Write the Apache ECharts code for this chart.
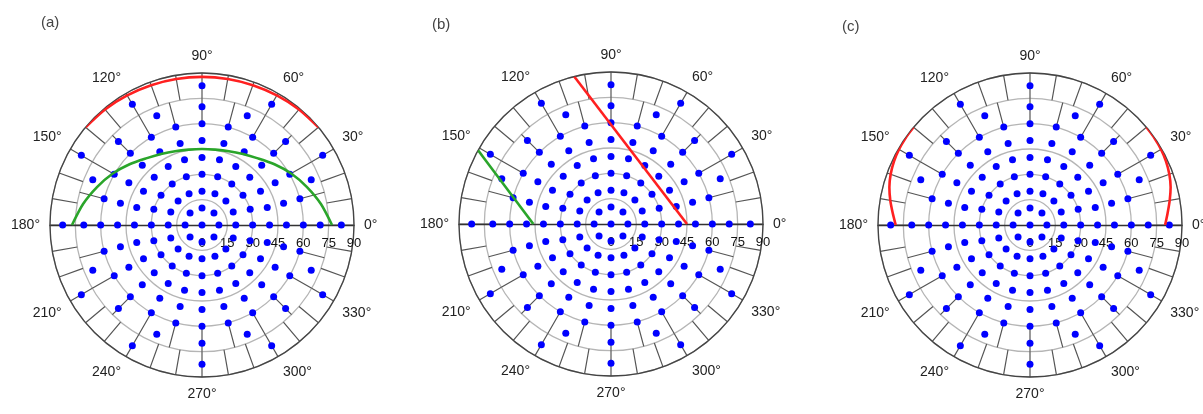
<!DOCTYPE html>
<html><head><meta charset="utf-8">
<script src="https://cdn.jsdelivr.net/npm/echarts@6/dist/echarts.min.js"></script>
<style>html,body{margin:0;padding:0;background:#fff}#c{width:1203px;height:414px}</style>
</head><body><div id="c"></div><script>
// ---- data ----
const panelLabels = ['(a)', '(b)', '(c)'];
const radiusTicks = [0, 15, 30, 45, 60, 75, 90];
const angleTickStep = 30;
// sampling rings: zenith angle of each ring and number of points on it
const ringZenith = [0, 10, 20, 30, 40, 50, 60, 70, 82.5];
const ringCount = [1, 8, 16, 20, 24, 24, 24, 16, 12];
// boundary curves [zenith, azimuth]
const aRed = [[90,40],[89.3,50],[88.6,60],[88.1,70],[87.8,80],[87.7,90],[87.8,100],[88.1,110],[88.6,120],[89.3,130],[90,140]];
const aGreen = [[77,0],[71.5,10],[66,20],[61,30],[56,40],[51.5,50],[48.5,60],[46.5,70],[45.3,80],[45,90],[45.3,100],[46.5,110],[48.5,120],[51.5,130],[56,140],[61,150],[66,160],[71.5,170],[77,180]];
const bRed = [[45,0],[90,104]];
const bGreen = [[46,180],[90,151]];
const cRedRight = [[80,0],[81.8,5],[84,10],[86.2,15],[87.8,20],[88.9,25],[89.6,30],[89.9,35],[90,40]];
const cRedLeft = [[90,140],[89.9,145],[89.6,150],[88.9,155],[87.8,160],[86.2,165],[84,170],[81.6,175],[79.5,180]];

const samplePoints = [];
ringZenith.forEach((z, i) => {
  const n = ringCount[i];
  for (let k = 0; k < n; k++) samplePoints.push([z, k * 360 / n]);
});

const centers = [[202, 225], [611, 224], [1030, 225]];
const R = 152;
const rOf = v => R * v / 90;
const FONT = 'Liberation Sans, Arial, sans-serif';

const polar = [], angleAxis = [], radiusAxis = [], series = [], title = [];
const titlePos = [[36, 10], [427, 12], [837, 14]];

centers.forEach((c, p) => {
  const base = polar.length;
  // 0 main
  polar.push({center: c, radius: R});
  angleAxis.push({polarIndex: base, type: 'value', min: 0, max: 360, interval: angleTickStep,
    startAngle: 0, clockwise: false,
    axisLine: {show: true, lineStyle: {color: '#444', width: 1.3}},
    axisTick: {show: false}, splitLine: {show: false},
    axisLabel: {show: true, margin: 10, color: '#222', fontSize: 14, fontFamily: FONT,
      formatter: v => v === 360 ? '' : v + '°'}});
  radiusAxis.push({polarIndex: base, type: 'value', min: 0, max: 90, interval: 15,
    axisLine: {show: true, lineStyle: {color: '#333', width: 1.3}},
    axisTick: {show: false},
    axisLabel: {show: true, color: '#111', fontSize: 13, fontFamily: FONT, margin: -12, verticalAlign: 'top'},
    splitLine: {show: true, lineStyle: {color: '#b5b5b5', width: 1.3}}});
  // 1 outer band 75-90
  polar.push({center: c, radius: [rOf(75), R]});
  angleAxis.push({polarIndex: base + 1, type: 'value', min: 0, max: 360, interval: 10,
    startAngle: 0, clockwise: false, axisLine: {show: false}, axisTick: {show: false}, axisLabel: {show: false},
    splitLine: {show: true, lineStyle: {color: '#555', width: 1.2}}});
  radiusAxis.push({polarIndex: base + 1, type: 'value', min: 75, max: 90, show: false});
  // 2 band 60-75
  polar.push({center: c, radius: [rOf(60), rOf(75)]});
  angleAxis.push({polarIndex: base + 2, type: 'value', min: 0, max: 360, interval: 15,
    startAngle: 0, clockwise: false, axisLine: {show: false}, axisTick: {show: false}, axisLabel: {show: false},
    splitLine: {show: true, lineStyle: {color: '#555', width: 1.2}}});
  radiusAxis.push({polarIndex: base + 2, type: 'value', min: 60, max: 75, show: false});
  // 3 diameter toward 180
  polar.push({center: c, radius: R});
  angleAxis.push({polarIndex: base + 3, type: 'value', min: 0, max: 360, startAngle: 180, clockwise: false, show: false});
  radiusAxis.push({polarIndex: base + 3, type: 'value', min: 0, max: 90,
    axisLine: {show: true, lineStyle: {color: '#333', width: 1.3}},
    axisTick: {show: false}, axisLabel: {show: false}, splitLine: {show: false}});

  series.push({type: 'scatter', coordinateSystem: 'polar', polarIndex: base, data: samplePoints,
    symbolSize: 7, itemStyle: {color: '#0000ff', opacity: 1}, z: 5, silent: true});
  const lines = p === 0 ? [[aRed, '#ff2020'], [aGreen, '#2aa52a']]
    : p === 1 ? [[bRed, '#ff2020'], [bGreen, '#2aa52a']]
    : [[cRedRight, '#ff2020'], [cRedLeft, '#ff2020']];
  lines.forEach(([d, col]) => series.push({type: 'line', coordinateSystem: 'polar', polarIndex: base,
    data: d, showSymbol: false, smooth: 0.25, lineStyle: {color: col, width: 2.6}, z: 6, silent: true}));
  title.push({text: panelLabels[p], left: titlePos[p][0], top: titlePos[p][1],
    textStyle: {fontSize: 15, fontWeight: 'normal', color: '#444', fontFamily: FONT}});
});

const chart = echarts.init(document.getElementById('c'));
chart.setOption({animation: false, backgroundColor: '#fff', title, polar, angleAxis, radiusAxis, series});
</script></body></html>
